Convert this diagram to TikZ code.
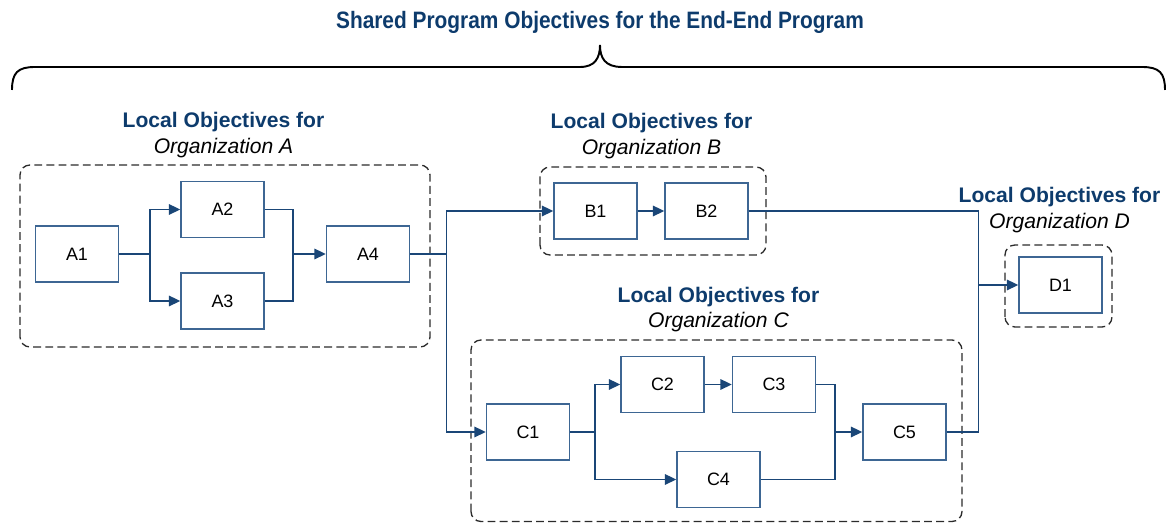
\documentclass[tikz,border=0pt]{standalone}
\usepackage{fontspec}
\setmainfont{Liberation Sans}
\newfontfamily\narrowfont[FakeStretch=0.88]{Liberation Sans}
\usetikzlibrary{arrows.meta}
\definecolor{navy}{HTML}{0D3B6C}
\definecolor{boxblue}{HTML}{3D6693}
\definecolor{flowblue}{HTML}{1A4677}
\definecolor{dashgray}{HTML}{2B2B2B}
\tikzset{
  task/.style={draw=boxblue, line width=0.8pt, minimum width=1.66cm, minimum height=1.12cm, inner sep=0pt, font=\fontsize{10.2}{12}\selectfont},
  flow/.style={draw=flowblue, line width=0.85pt},
  flowarr/.style={flow, -{Triangle[length=6.5pt,width=6pt]}},
  orggroup/.style={draw=dashgray, line width=0.75pt, dash pattern=on 4.5pt off 2.4pt, rounded corners=0.2cm},
  orglabel/.style={align=center, text=navy, inner sep=0pt, font=\fontsize{12}{14.7}\selectfont},
}
\begin{document}
\begin{tikzpicture}
            \useasboundingbox (0,0) rectangle (23.34,10.46);
            \node[text=navy, font=\narrowfont\fontsize{13.5}{16}\selectfont\bfseries] (title) at (12.0,10.02) {Shared Program Objectives for the End-End Program};
            \draw[line width=1.1pt] (0.24,8.66) .. controls (0.24,9.0) and (0.35,9.12) .. (0.7,9.12) -- (11.6,9.12) .. controls (11.9,9.12) and (12.0,9.3) .. (12.0,9.56) .. controls (12.0,9.3) and (12.1,9.12) .. (12.44,9.12) -- (22.84,9.12) .. controls (23.19,9.12) and (23.3,9.0) .. (23.3,8.66);

            \draw[orggroup] (0.4,3.52) rectangle (8.6,7.16);
            \draw[orggroup] (10.8,5.36) rectangle (15.32,7.12);
            \draw[orggroup] (9.42,0.03) rectangle (19.24,3.66);
            \draw[orggroup] (20.1,3.92) rectangle (22.24,5.56);

            \node[orglabel] (labA) at (4.47,7.76) {\textbf{Local Objectives for}\\\textcolor{black}{\textit{Organization A}}};
            \node[orglabel] (labB) at (13.03,7.74) {\textbf{Local Objectives for}\\\textcolor{black}{\textit{Organization B}}};
            \node[orglabel] (labC) at (14.37,4.27) {\textbf{Local Objectives for}\\\textcolor{black}{\textit{Organization C}}};
            \node[orglabel] (labD) at (21.19,6.26) {\textbf{Local Objectives for}\\\textcolor{black}{\textit{Organization D}}};

            \node[task] (A1) at (1.54,5.38) {A1};
            \node[task] (A2) at (4.45,6.27) {A2};
            \node[task] (A3) at (4.45,4.44) {A3};
            \node[task] (A4) at (7.36,5.38) {A4};
            \node[task] (B1) at (11.91,6.24) {B1};
            \node[task] (B2) at (14.13,6.24) {B2};
            \node[task] (C1) at (10.56,1.82) {C1};
            \node[task] (C2) at (13.25,2.77) {C2};
            \node[task] (C3) at (15.48,2.77) {C3};
            \node[task] (C4) at (14.37,0.87) {C4};
            \node[task] (C5) at (18.09,1.82) {C5};
            \node[task] (D1) at (21.21,4.76) {D1};

            \coordinate (splitA) at (3.0,5.38);
            \coordinate (joinA) at (5.86,5.38);
            \coordinate (splitB) at (8.93,5.38);
            \coordinate (splitC) at (11.9,1.82);
            \coordinate (joinC) at (16.7,1.82);
            \coordinate (joinD) at (19.57,4.76);

            \draw[flow] (A1) -- (splitA);
            \draw[flowarr] (splitA) |- (A2);
            \draw[flowarr] (splitA) |- (A3);
            \draw[flow] (A2) -| (joinA);
            \draw[flow] (A3) -| (joinA);
            \draw[flowarr] (joinA) -- (A4);
            \draw[flow] (A4) -- (splitB);
            \draw[flowarr] (splitB) |- (B1);
            \draw[flowarr] (splitB) |- (C1);
            \draw[flowarr] (B1) -- (B2);
            \draw[flow] (C1) -- (splitC);
            \draw[flowarr] (splitC) |- (C2);
            \draw[flowarr] (splitC) |- (C4);
            \draw[flowarr] (C2) -- (C3);
            \draw[flow] (C3) -| (joinC);
            \draw[flow] (C4) -| (joinC);
            \draw[flowarr] (joinC) -- (C5);
            \draw[flow] (B2) -| (joinD);
            \draw[flow] (C5) -| (joinD);
            \draw[flowarr] (joinD) -- (D1);
        \end{tikzpicture}
\end{document}
